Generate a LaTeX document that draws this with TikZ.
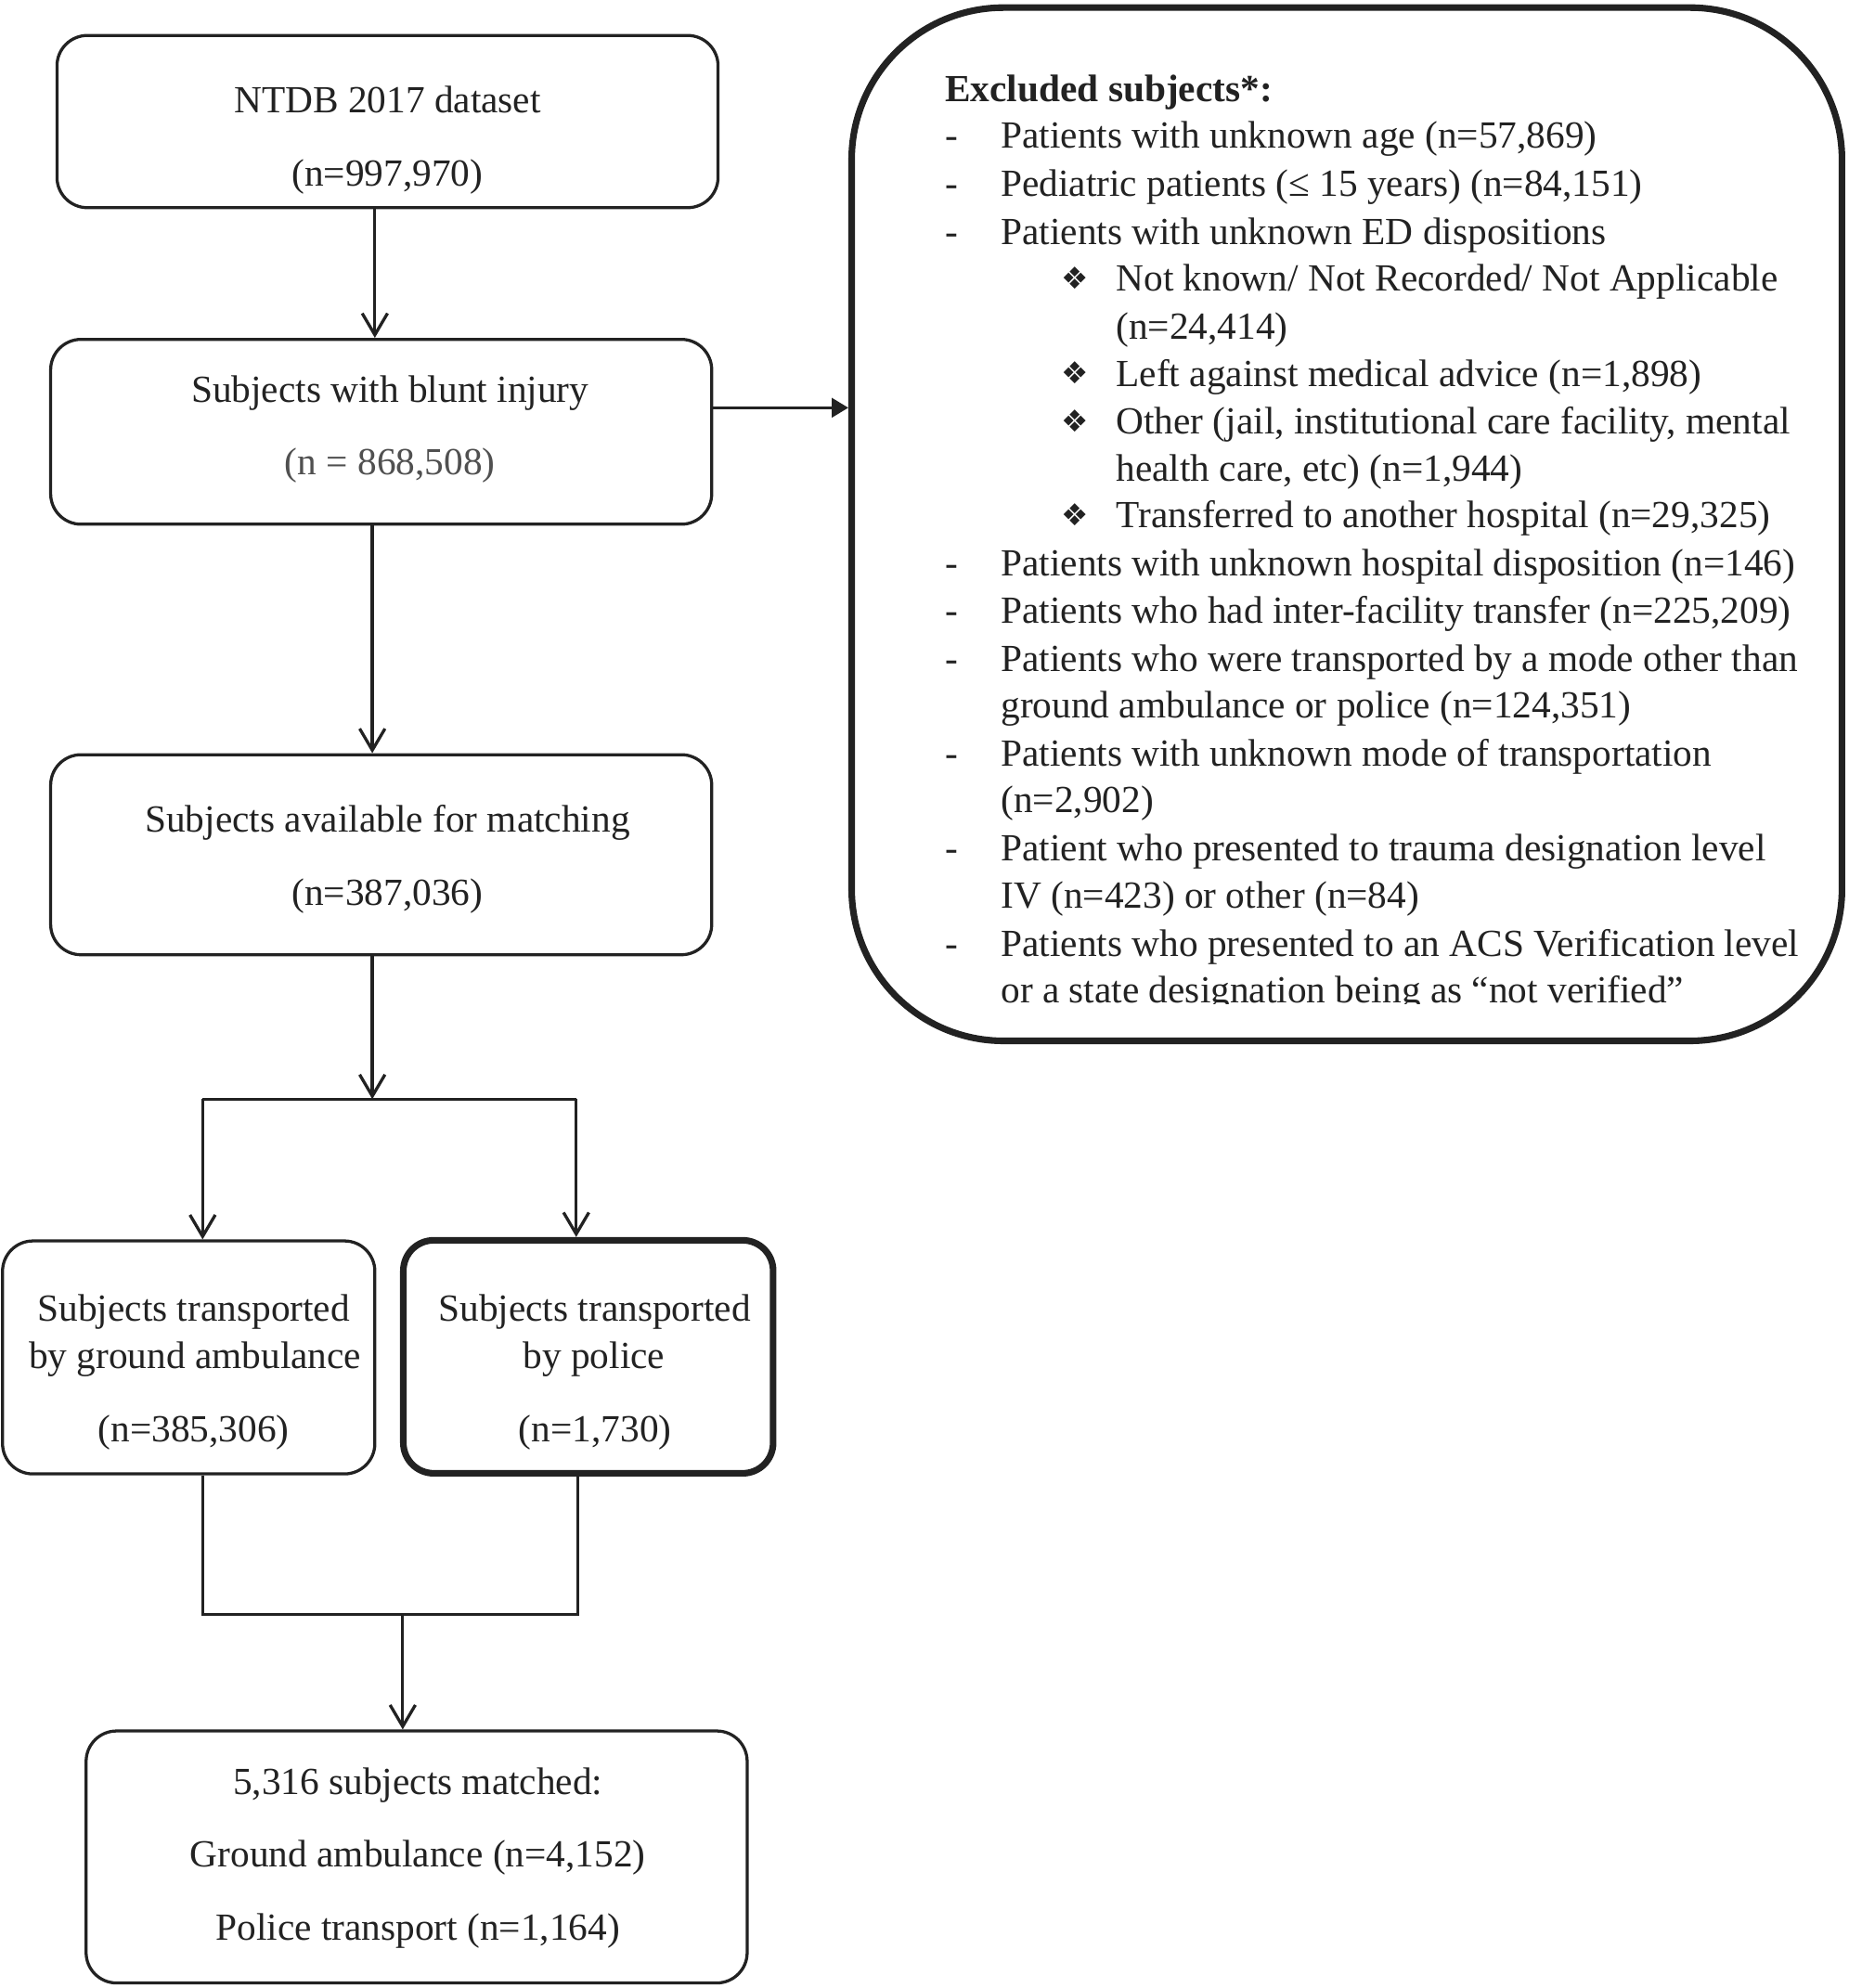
\documentclass[tikz,border=0pt]{standalone}
\usepackage{fontspec}
\setmainfont{Liberation Serif}
\newfontfamily\dejavu{DejaVu Sans}
\usetikzlibrary{arrows.meta}
\definecolor{ink}{HTML}{222222}
\definecolor{graytxt}{HTML}{505050}
\begin{document}
\begin{tikzpicture}[x=0.5pt,y=-0.5pt,
  box/.style={draw=ink, line width=1.2pt, rounded corners=12pt, inner sep=0pt},
  thickbox/.style={box, line width=2.6pt},
  bigbox/.style={draw=ink, line width=2.6pt, rounded corners=60pt, inner sep=0pt},
  txt/.style={inner sep=0pt, anchor=base, font=\fontsize{15.15}{18}\selectfont, text=ink},
  ltxt/.style={txt, anchor=base west},
  bul/.style={inner sep=0pt, anchor=base west, font=\dejavu\fontsize{12}{14}\selectfont, text=ink},
  conn/.style={draw=ink, line width=1.2pt},
  arr/.style={conn, -{Straight Barb[length=8.5pt,width=10pt]}},
  farr/.style={conn, -{Triangle[length=6.5pt,width=7.5pt]}}]
\useasboundingbox (0,0) rectangle (1460,1570);
\fill[white] (0,0) rectangle (1460,1570);

% boxes
\node[box, minimum width=261pt, minimum height=68pt] (b1) at (306,96) {};
\node[box, minimum width=261pt, minimum height=73pt] (b2) at (301,341) {};
\node[box, minimum width=261pt, minimum height=79pt] (b3) at (301,675) {};
\node[box, minimum width=147pt, minimum height=92pt] (b4) at (149,1072) {};
\node[thickbox, minimum width=146pt, minimum height=92pt] (b5) at (464.5,1071.5) {};
\node[box, minimum width=261pt, minimum height=99.5pt] (b6) at (329,1466.5) {};
\node[bigbox, minimum width=391pt, minimum height=408pt] (ex) at (1063.5,414) {};

% box texts
\node[txt] (t1a) at (306,89) {NTDB 2017 dataset};
\node[txt] (t1b) at (306,147) {(n=997,970)};
\node[txt] (t2a) at (308,318) {Subjects with blunt injury};
\node[txt, text=graytxt] (t2b) at (308,375) {(n = 868,508)};
\node[txt] (t3a) at (306,657) {Subjects available for matching};
\node[txt] (t3b) at (306,715) {(n=387,036)};
\node[txt] (t4a) at (153,1043) {Subjects transported};
\node[txt] (t4b) at (154,1081) {by ground ambulance};
\node[txt] (t4c) at (153,1139) {(n=385,306)};
\node[txt] (t5a) at (469.5,1043) {Subjects transported};
\node[txt] (t5b) at (469,1081) {by police};
\node[txt] (t5c) at (470,1139) {(n=1,730)};
\node[txt] (t6a) at (330,1417) {5,316 subjects matched:};
\node[txt] (t6b) at (330,1474) {Ground ambulance (n=4,152)};
\node[txt] (t6c) at (330,1532) {Police transport (n=1,164)};

% excluded list
\node[ltxt, font=\bfseries\fontsize{15.15}{18}\selectfont] (eh) at (746,80) {Excluded subjects*:};
\begin{scope}
\clip (672,0) rectangle (1460,793);
\node[ltxt] (d1) at (746,117) {-};
\node[ltxt] (e1) at (790,117) {Patients with unknown age (n=57,869)};
\node[ltxt] (d2) at (746,155) {-};
\node[ltxt] (e2) at (790,155) {Pediatric patients (≤ 15 years) (n=84,151)};
\node[ltxt] (d3) at (746,193) {-};
\node[ltxt] (e3) at (790,193) {Patients with unknown ED dispositions};
\node[bul] (s1) at (838,228) {❖};
\node[ltxt] (f1) at (881,230) {Not known/ Not Recorded/ Not Applicable};
\node[ltxt] (f1b) at (881,268) {(n=24,414)};
\node[bul] (s2) at (838,303) {❖};
\node[ltxt] (f2) at (881,305) {Left against medical advice (n=1,898)};
\node[bul] (s3) at (838,341) {❖};
\node[ltxt] (f3) at (881,343) {Other (jail, institutional care facility, mental};
\node[ltxt] (f3b) at (881,380) {health care, etc) (n=1,944)};
\node[bul] (s4) at (838,415) {❖};
\node[ltxt] (f4) at (881,417) {Transferred to another hospital (n=29,325)};
\node[ltxt] (d4) at (746,455) {-};
\node[ltxt] (e4) at (790,455) {Patients with unknown hospital disposition (n=146)};
\node[ltxt] (d5) at (746,492) {-};
\node[ltxt] (e5) at (790,492) {Patients who had inter-facility transfer (n=225,209)};
\node[ltxt] (d6) at (746,530) {-};
\node[ltxt] (e6) at (790,530) {Patients who were transported by a mode other than};
\node[ltxt] (e6b) at (790,567) {ground ambulance or police (n=124,351)};
\node[ltxt] (d7) at (746,605) {-};
\node[ltxt] (e7) at (790,605) {Patients with unknown mode of transportation};
\node[ltxt] (e7b) at (790,642) {(n=2,902)};
\node[ltxt] (d8) at (746,680) {-};
\node[ltxt] (e8) at (790,680) {Patient who presented to trauma designation level};
\node[ltxt] (e8b) at (790,717) {IV (n=423) or other (n=84)};
\node[ltxt] (d9) at (746,755) {-};
\node[ltxt] (e9) at (790,755) {Patients who presented to an ACS Verification level};
\node[ltxt] (e9b) at (790,792) {or a state designation being as “not verified”};
\end{scope}

% connectors
\draw[arr] ([xshift=-5pt]b1.south) -- ([xshift=-5pt]b1.south |- b2.north);
\draw[arr] ([xshift=-3.5pt]b2.south) -- ([xshift=-3.5pt]b2.south |- b3.north);
\draw[farr] ([yshift=9.5pt]b2.east) -- ([yshift=9.5pt]b2.east -| ex.west);

\coordinate (split) at (294,868);
\coordinate (sl) at (160,868);
\coordinate (sr) at (455,868);
\draw[arr] ([xshift=-3.5pt]b3.south) -- (split);
\draw[conn] (sl) -- (sr);
\draw[arr] (sl) -- (sl |- b4.north);
\draw[arr] (sr) -- (sr |- b5.north);

\coordinate (ml) at (160,1275);
\coordinate (mr) at (456,1275);
\coordinate (mm) at (318,1275);
\draw[conn] (ml |- b4.south) -- (ml) -- (mr) -- (mr |- b5.south);
\draw[arr] (mm) -- (mm |- b6.north);
\end{tikzpicture}
\end{document}
